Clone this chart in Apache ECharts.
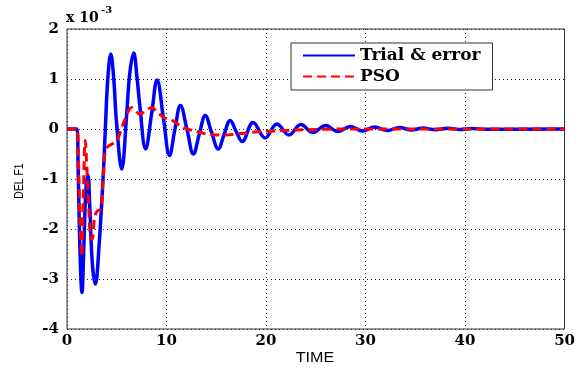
<!DOCTYPE html>
<html>
<head>
<meta charset="utf-8">
<script src="https://cdn.jsdelivr.net/npm/echarts@6/dist/echarts.min.js"></script>
<style>
html,body{margin:0;padding:0;background:#fff;}
#chart{width:578px;height:369px;}
</style>
</head>
<body>
<div id="chart"></div>
<script>
// ---- data (values in units of 1e-3) ----
var seriesNames = ['Trial & error', 'PSO'];
var xTicks = [0, 10, 20, 30, 40, 50];
var yTicks = [-4, -3, -2, -1, 0, 1, 2];

var trialT = [0, 1.0, 1.12, 1.3, 1.5, 1.7, 1.9, 2.1, 2.3, 2.55, 2.85, 3.2, 3.68, 3.85, 4.1, 4.4, 4.7, 4.95, 5.5, 6.0, 6.3, 6.7, 7.05, 7.3, 7.9, 8.5, 9.05, 9.7, 10.3, 10.85, 11.4, 12.05, 12.7, 13.3, 13.9, 14.5, 15.2, 15.8, 16.4, 17.0, 17.6, 18.7, 19.9, 21.1, 22.3, 23.5, 24.7, 26.0, 27.2, 28.5, 29.7, 30.9, 32.2, 33.4, 34.6, 35.8, 37.0, 38.3, 39.5, 40.7, 42.0, 50];
var trialV = [0, 0, -0.8, -2.4, -3.27, -2.3, -1.2, -0.92, -1.6, -2.7, -3.1, -2.4, -0.77, 0, 1.0, 1.5, 1.0, 0.2, -0.8, 0.3, 1.1, 1.52, 1.0, 0.5, -0.4, 0.3, 0.98, 0.2, -0.53, 0, 0.47, 0, -0.5, -0.1, 0.27, -0.05, -0.4, -0.1, 0.17, -0.05, -0.25, 0.13, -0.18, 0.1, -0.12, 0.09, -0.07, 0.07, -0.05, 0.05, -0.04, 0.04, -0.03, 0.03, -0.02, 0.02, -0.015, 0.015, -0.01, 0.01, -0.005, 0];

var psoT = [0, 1.0, 1.12, 1.3, 1.48, 1.62, 1.76, 1.84, 1.95, 2.15, 2.4, 2.55, 2.75, 3.0, 3.4, 3.6, 3.8, 4.0, 5.0, 5.7, 6.5, 7.3, 8.5, 9.1, 9.8, 10.5, 11.65, 13.0, 14.0, 15.0, 16.0, 17.0, 18.0, 19.5, 21.0, 23.0, 25.0, 28.0, 50];
var psoV = [0, 0, -0.4, -1.8, -2.55, -1.5, -0.4, -0.23, -0.6, -1.4, -2.2, -2.2, -1.8, -1.65, -1.6, -1.1, -0.5, -0.37, -0.23, 0.13, 0.43, 0.3, 0.43, 0.33, 0.22, 0.18, 0.03, -0.05, -0.1, -0.12, -0.12, -0.1, -0.08, -0.05, -0.04, -0.02, -0.01, 0, 0];

function zip(a, b) { return a.map(function (v, i) { return [v, b[i]]; }); }

var chart = echarts.init(document.getElementById('chart'), null, {renderer: 'canvas'});
var tickFont = {fontFamily: 'DejaVu Serif', fontWeight: 'bold', fontSize: 15, color: '#000'};

chart.setOption({
  animation: false,
  backgroundColor: '#fff',
  grid: {left: 67, right: 12, top: 29, bottom: 40, show: true, borderColor: '#333', borderWidth: 1, backgroundColor: 'transparent'},
  xAxis: {
    type: 'value', min: xTicks[0], max: xTicks[xTicks.length - 1], interval: 10,
    axisLine: {show: false}, axisTick: {show: false},
    axisLabel: Object.assign({margin: 5}, tickFont),
    splitLine: {show: true, lineStyle: {type: [1, 3], color: '#222', width: 1}}
  },
  yAxis: {
    type: 'value', min: yTicks[0], max: yTicks[yTicks.length - 1], interval: 1,
    axisLine: {show: false}, axisTick: {show: false},
    axisLabel: Object.assign({margin: 8}, tickFont),
    splitLine: {show: true, lineStyle: {type: [1, 3], color: '#222', width: 1}}
  },
  legend: {
    left: 291, top: 43, orient: 'vertical',
    backgroundColor: '#fff', borderColor: '#333', borderWidth: 1,
    padding: [4, 12, 5, 11], itemWidth: 52, itemHeight: 16, itemGap: 4,
    itemStyle: {opacity: 0},
    textStyle: {fontFamily: 'DejaVu Serif', fontWeight: 'bold', fontSize: 17, color: '#000', lineHeight: 16},
    data: seriesNames
  },
  series: [
    {name: seriesNames[0], type: 'line', data: zip(trialT, trialV), showSymbol: false, symbol: 'none', smooth: 0.4,
     lineStyle: {color: '#0000ff', width: 3.5}, itemStyle: {color: '#0000ff'}},
    {name: seriesNames[1], type: 'line', data: zip(psoT, psoV), showSymbol: false, symbol: 'none', smooth: 0.3,
     lineStyle: {color: '#ff0000', width: 3, type: [9, 5]}, itemStyle: {color: '#ff0000'}}
  ],
  graphic: [
    {type: 'text', left: 66, top: 11, style: {text: 'x 10', font: 'bold 14px "DejaVu Serif"', fill: '#000'}},
    {type: 'text', left: 101, top: 5, style: {text: '-3', font: 'bold 10px "DejaVu Serif"', fill: '#000'}},
    {type: 'text', x: 19, y: 181, rotation: Math.PI / 2, scaleX: 0.8,
     style: {text: 'DEL F1', font: '13px "Liberation Sans"', fill: '#000', align: 'center', verticalAlign: 'middle'}},
    {type: 'text', x: 315, y: 358, scaleX: 1.15,
     style: {text: 'TIME', font: '14px "Liberation Sans"', fill: '#000', align: 'center', verticalAlign: 'middle'}}
  ]
});
</script>
</body>
</html>
